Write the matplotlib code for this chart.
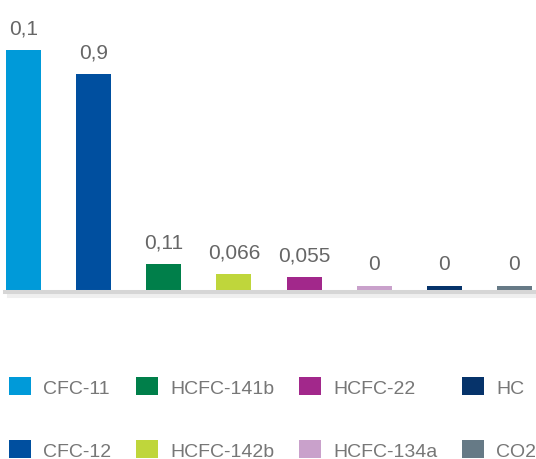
import matplotlib.pyplot as plt
from matplotlib.patches import Patch

# data
gases = ['CFC-11', 'CFC-12', 'HCFC-141b', 'HCFC-142b',
         'HCFC-22', 'HCFC-134a', 'HC', 'CO2']
values = [1.0, 0.9, 0.11, 0.066, 0.055, 0, 0, 0]
value_labels = ['0,1', '0,9', '0,11', '0,066', '0,055', '0', '0', '0']
colors = ['#009ad9', '#004f9f', '#007f4a', '#bfd63b',
          '#a2288b', '#c9a1cb', '#06336a', '#667a86']

plt.rcParams['font.family'] = ['Liberation Sans', 'DejaVu Sans']

fig = plt.figure(figsize=(5.36, 4.60), dpi=100)
ax = fig.add_axes([0, 1 - 300 / 460, 1, 300 / 460])

min_h = 4 / 240  # zero values still get a thin visible bar
x = list(range(len(gases)))
heights = [max(v, min_h) for v in values]
ax.bar(x, heights, width=0.5, color=colors, zorder=2)

for xi, h, lab in zip(x, heights, value_labels):
    ax.annotate(lab, (xi, h), xytext=(0, 9), textcoords='offset points',
                ha='center', va='bottom', fontsize=15, color='#666666')

# grey baseline with a faint shadow under it
ax.axhline(-2 / 240, xmin=5 / 536, xmax=1, color='#cfcfcf', lw=2.9,
           alpha=0.85, zorder=3)
ax.axhline(-6 / 240, xmin=9 / 536, xmax=1, color='#efefef', lw=2.9,
           zorder=1)

ax.set_xlim(-0.335, 7.307)
ax.set_ylim(-9 / 240, 291 / 240)
ax.axis('off')

handles = [Patch(facecolor=c, edgecolor='none') for c in colors]
fig.legend(handles, gases, ncol=4, loc='upper left',
           bbox_to_anchor=(9 / 536, 1 - 378 / 460), frameon=False,
           fontsize=14, labelcolor='#777777', borderpad=0,
           borderaxespad=0, handlelength=1.13, handleheight=1.03,
           handletextpad=0.62, columnspacing=1.28, labelspacing=2.26)

fig.savefig('out.png', dpi=100)
